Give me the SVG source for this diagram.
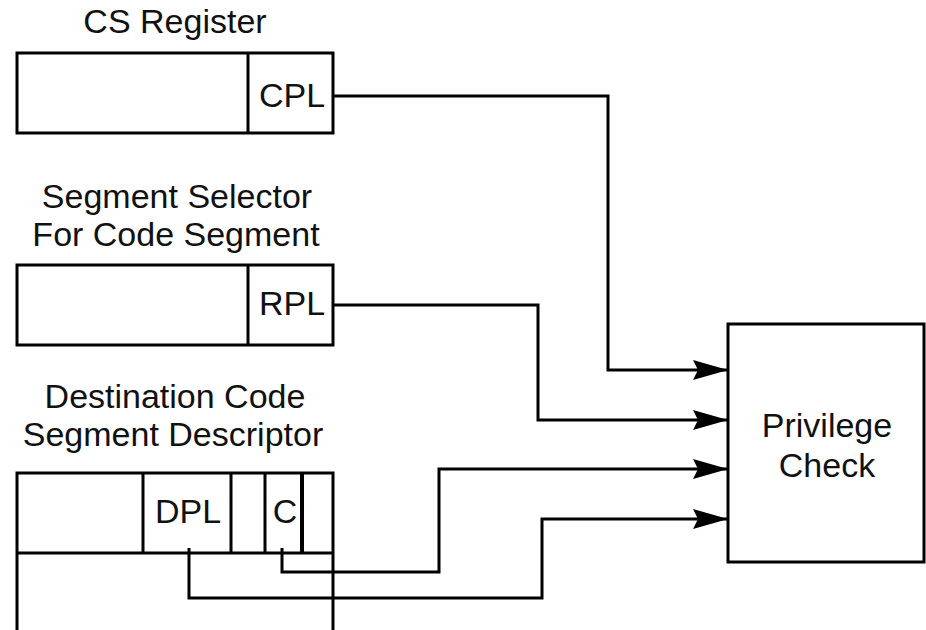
<svg xmlns="http://www.w3.org/2000/svg" width="926" height="630" viewBox="0 0 926 630">
<defs>
<style>
.box{fill:#fff;stroke:#000;stroke-width:3}
.ln{fill:none;stroke:#000;stroke-width:3}
.t{font-family:"Liberation Sans",Arial,sans-serif;font-size:34px;fill:#111;text-anchor:middle}
.c{fill:none;stroke:#000;stroke-width:3;marker-end:url(#ah)}
</style>
<marker id="ah" markerUnits="userSpaceOnUse" viewBox="0 0 36 22" refX="35" refY="11" markerWidth="36" markerHeight="22" orient="auto">
<path d="M0,1 L35,11 L0,21 L5,11 z" fill="#000"/>
</marker>
</defs>
<rect width="926" height="630" fill="#fff"/>
<g id="cs-register">
<text class="t" x="175" y="33">CS Register</text>
<rect class="box" x="17" y="53" width="316" height="80"/>
<line class="ln" x1="248" y1="53" x2="248" y2="133"/>
<text class="t" x="292" y="107">CPL</text>
</g>
<g id="segment-selector">
<text class="t" x="177" y="208">Segment Selector</text>
<text class="t" x="176" y="246">For Code Segment</text>
<rect class="box" x="17" y="265" width="316" height="80"/>
<line class="ln" x1="248" y1="265" x2="248" y2="345"/>
<text class="t" x="292" y="315">RPL</text>
</g>
<g id="descriptor">
<text class="t" x="175" y="408">Destination Code</text>
<text class="t" x="173" y="446">Segment Descriptor</text>
<path class="ln" d="M17,632 V473 H333 V632"/>
<line class="ln" x1="17" y1="553" x2="333" y2="553"/>
<line class="ln" x1="143" y1="473" x2="143" y2="553"/>
<line class="ln" x1="231" y1="473" x2="231" y2="553"/>
<line class="ln" x1="265" y1="473" x2="265" y2="553"/>
<line x1="302" y1="473" x2="302" y2="553" stroke="#000" stroke-width="4"/>
<text class="t" x="188" y="523">DPL</text>
<text class="t" x="285" y="523">C</text>
</g>
<g id="privilege-check">
<rect class="box" x="728" y="324" width="196" height="238"/>
<text class="t" x="827" y="437">Privilege</text>
<text class="t" x="827" y="477">Check</text>
</g>
<g id="connectors">
<path class="c" d="M333,96 H608 V370 H728"/>
<path class="c" d="M333,305 H538 V420 H728"/>
<path class="c" d="M282,548 V572 H439 V469 H728"/>
<path class="c" d="M189,548 V598 H542 V519 H728"/>
</g>
</svg>
